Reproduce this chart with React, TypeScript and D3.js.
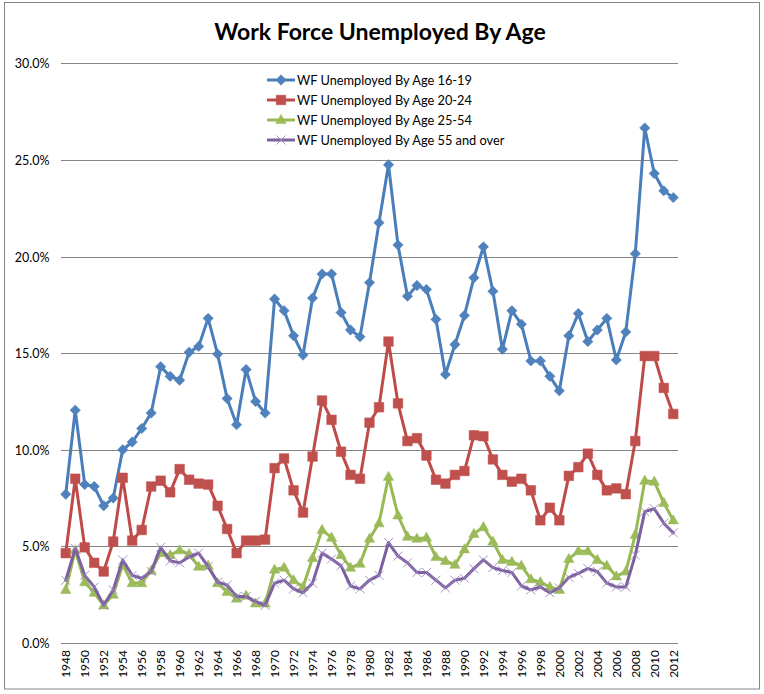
import { useEffect, useRef } from 'react';
import * as d3 from 'd3';

const WIDTH = 764;
const HEIGHT = 694;
const PLOT = { left: 61, right: 678, top: 63.3, bottom: 643 };

const years = d3.range(1948, 2013);
const yTicks = [0, 5, 10, 15, 20, 25, 30];

const age1619 = [
  7.7, 12.05, 8.2, 8.1, 7.1, 7.5, 10.0, 10.4, 11.1, 11.9,
  14.3, 13.8, 13.6, 15.05, 15.35, 16.8, 14.95, 12.65, 11.3, 14.15,
  12.5, 11.9, 17.8, 17.2, 15.9, 14.9, 17.85, 19.1, 19.1, 17.1,
  16.2, 15.85, 18.65, 21.75, 24.75, 20.6, 17.95, 18.5, 18.3, 16.75,
  13.9, 15.45, 16.95, 18.9, 20.5, 18.2, 15.2, 17.2, 16.5, 14.6,
  14.6, 13.8, 13.05, 15.9, 17.05, 15.6, 16.2, 16.8, 14.65, 16.1,
  20.15, 26.65, 24.3, 23.4, 23.05,
];
const age2024 = [
  4.65, 8.5, 4.95, 4.15, 3.7, 5.25, 8.55, 5.3, 5.85, 8.1,
  8.4, 7.8, 9.0, 8.45, 8.25, 8.2, 7.1, 5.9, 4.65, 5.3,
  5.3, 5.35, 9.05, 9.55, 7.9, 6.75, 9.65, 12.55, 11.55, 9.9,
  8.7, 8.5, 11.4, 12.2, 15.6, 12.4, 10.45, 10.6, 9.7, 8.45,
  8.25, 8.7, 8.9, 10.75, 10.7, 9.5, 8.7, 8.35, 8.5, 7.9,
  6.35, 7.0, 6.35, 8.65, 9.1, 9.8, 8.7, 7.9, 8.0, 7.7,
  10.45, 14.85, 14.85, 13.2, 11.85,
];
const age2554 = [
  2.75, 4.8, 3.15, 2.6, 1.95, 2.5, 4.05, 3.1, 3.1, 3.75,
  4.65, 4.55, 4.8, 4.6, 3.95, 4.0, 3.1, 2.65, 2.3, 2.45,
  2.05, 2.05, 3.8, 3.9, 3.25, 2.9, 4.4, 5.85, 5.45, 4.55,
  3.9, 4.1, 5.4, 6.2, 8.6, 6.6, 5.5, 5.4, 5.45, 4.45,
  4.25, 4.05, 4.85, 5.65, 6.0, 5.25, 4.3, 4.2, 4.0, 3.3,
  3.15, 2.9, 2.75, 4.35, 4.75, 4.75, 4.3, 4.0, 3.45, 3.7,
  5.6, 8.4, 8.35, 7.25, 6.35,
];
const age55 = [
  3.25, 4.9, 3.5, 2.9, 1.95, 2.75, 4.3, 3.5, 3.35, 3.7,
  4.95, 4.25, 4.15, 4.45, 4.65, 3.95, 3.15, 3.0, 2.4, 2.4,
  2.15, 1.95, 3.1, 3.25, 2.8, 2.6, 3.1, 4.65, 4.35, 4.0,
  2.95, 2.8, 3.25, 3.5, 5.2, 4.5, 4.15, 3.65, 3.65, 3.25,
  2.85, 3.25, 3.35, 3.85, 4.3, 3.9, 3.75, 3.65, 2.95, 2.75,
  2.9, 2.6, 2.85, 3.4, 3.6, 3.85, 3.7, 3.1, 2.9, 2.9,
  4.55, 6.8, 6.95, 6.2, 5.7,
];

type Marker = 'diamond' | 'square' | 'triangle' | 'x';

const series: { name: string; values: number[]; line: string; fill: string; marker: Marker }[] = [
  { name: 'WF Unemployed By Age 16-19', values: age1619, line: '#4A7EBB', fill: '#4F81BD', marker: 'diamond' },
  { name: 'WF Unemployed By Age 20-24', values: age2024, line: '#BE4B48', fill: '#C0504D', marker: 'square' },
  { name: 'WF Unemployed By Age 25-54', values: age2554, line: '#98B954', fill: '#9BBB59', marker: 'triangle' },
  { name: 'WF Unemployed By Age 55 and over', values: age55, line: '#7D60A0', fill: '#8064A2', marker: 'x' },
];

const FONT = 'Lato, "Open Sans", sans-serif';

function markerPath(kind: Marker): string {
  switch (kind) {
    case 'diamond':
      return 'M0,-5.2L5.2,0L0,5.2L-5.2,0Z';
    case 'square':
      return 'M-4.8,-4.8H4.8V4.8H-4.8Z';
    case 'triangle':
      return 'M0,-5.6L5.2,3.6L-5.2,3.6Z';
    default:
      return 'M-4.5,-4.5L4.5,4.5M-4.5,4.5L4.5,-4.5';
  }
}

function drawMarker(
  g: d3.Selection<SVGGElement, unknown, null, undefined>,
  s: (typeof series)[number],
  x: number,
  y: number
) {
  const p = g.append('path')
    .attr('d', markerPath(s.marker))
    .attr('transform', `translate(${x},${y})`);
  if (s.marker === 'x') {
    p.attr('fill', 'none').attr('stroke', '#9C87BD').attr('stroke-width', 0.9);
  } else {
    p.attr('fill', s.fill).attr('stroke', s.fill).attr('stroke-width', 0.5);
  }
}

export default function App() {
  const svgRef = useRef<SVGSVGElement>(null);

  useEffect(() => {
    if (!svgRef.current) return;
    const svg = d3.select(svgRef.current);
    svg.selectAll('*').remove();

    const xScale = d3
      .scaleBand<number>()
      .domain(years)
      .range([PLOT.left, PLOT.right])
      .padding(0);
    const cx = (yr: number) => xScale(yr)! + xScale.bandwidth() / 2;

    const yScale = d3
      .scaleLinear()
      .domain([0, 30])
      .range([PLOT.bottom, PLOT.top]);

    // Chart area
    svg.append('rect')
      .attr('x', 0).attr('y', 0)
      .attr('width', WIDTH).attr('height', HEIGHT)
      .attr('fill', '#fff');
    svg.append('rect')
      .attr('x', 4.5).attr('y', 2.5)
      .attr('width', 755).attr('height', 686.5)
      .attr('fill', 'none')
      .attr('stroke', '#868686')
      .attr('stroke-width', 1);

    // Title
    svg.append('text')
      .attr('x', 380)
      .attr('y', 40)
      .attr('text-anchor', 'middle')
      .attr('font-family', FONT)
      .attr('font-size', 23)
      .attr('font-weight', 'bold')
      .attr('fill', '#000')
      .text('Work Force Unemployed By Age');

    // Gridlines + y labels
    yTicks.forEach((t) => {
      const y = Math.round(yScale(t)) + 0.5;
      svg.append('line')
        .attr('x1', PLOT.left).attr('x2', PLOT.right)
        .attr('y1', y).attr('y2', y)
        .attr('stroke', '#868686')
        .attr('stroke-width', 1);
      svg.append('text')
        .attr('x', 49.5)
        .attr('y', y + 4.5)
        .attr('text-anchor', 'end')
        .attr('font-family', FONT)
        .attr('font-size', 12.5)
        .attr('fill', '#000')
        .text(`${t.toFixed(1)}%`);
    });

    // X labels (every other year)
    years.filter((yr) => (yr - 1948) % 2 === 0).forEach((yr) => {
      svg.append('text')
        .attr('transform', `translate(${cx(yr) + 4.5},${PLOT.bottom + 7}) rotate(-90)`)
        .attr('text-anchor', 'end')
        .attr('font-family', FONT)
        .attr('font-size', 12)
        .attr('fill', '#000')
        .text(String(yr));
    });

    // Series
    const line = d3.line<number>()
      .x((_, i) => cx(years[i]))
      .y((d) => yScale(d));

    series.forEach((s) => {
      const g = svg.append('g');
      g.append('path')
        .attr('d', line(s.values))
        .attr('fill', 'none')
        .attr('stroke', s.line)
        .attr('stroke-width', 3)
        .attr('stroke-linejoin', 'round')
        .attr('stroke-linecap', 'round');
      s.values.forEach((v, i) => drawMarker(g, s, cx(years[i]), yScale(v)));
    });

    // Legend
    const legend = svg.append('g');
    series.forEach((s, i) => {
      const y = 80 + i * 20;
      legend.append('line')
        .attr('x1', 267).attr('x2', 295)
        .attr('y1', y).attr('y2', y)
        .attr('stroke', s.line)
        .attr('stroke-width', 3);
      drawMarker(legend, s, 281, y);
      legend.append('text')
        .attr('x', 297)
        .attr('y', y + 4.5)
        .attr('font-family', FONT)
        .attr('font-size', 12.8)
        .attr('fill', '#000')
        .text(s.name);
    });
  }, []);

  return (
    <div style={{ position: 'absolute', left: 0, top: 0 }}>
      <svg ref={svgRef} width={WIDTH} height={HEIGHT} style={{ display: 'block' }} />
    </div>
  );
}
